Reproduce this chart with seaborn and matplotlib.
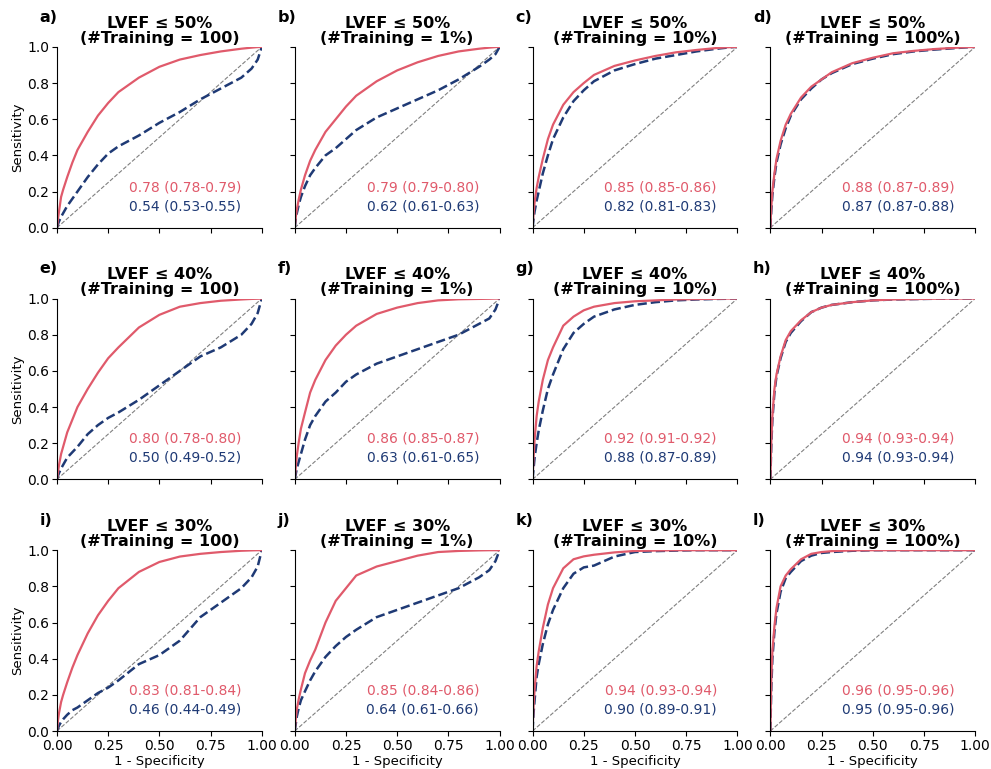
import numpy as np
import pandas as pd
import matplotlib
matplotlib.use("Agg")
import matplotlib.pyplot as plt
import seaborn as sns

# shared false positive rate grid used to read the curves off the figure
fpr = [0, .005, .01, .02, .03, .05, .075, .1, .15, .2, .25, .3, .4, .5, .6, .7, .8, .9, .95, .98, 1]

# sensitivity values per panel (red = first model, blue = second model)
red_a = [0, .05, .09, .17, .21, .28, .36, .43, .53, .62, .69, .75, .83, .89, .93, .955, .975, .99, .996, .999, 1]
blue_a = [0, .02, .035, .06, .08, .12, .16, .2, .28, .35, .41, .45, .51, .58, .64, .71, .77, .83, .88, .93, 1]
red_b = [0, .06, .1, .16, .21, .29, .37, .43, .53, .6, .67, .73, .81, .87, .915, .95, .975, .99, .996, .999, 1]
blue_b = [0, .05, .08, .13, .17, .23, .29, .33, .4, .44, .49, .54, .61, .66, .71, .76, .82, .89, .93, .96, 1]
red_c = [0, .08, .14, .22, .28, .38, .49, .57, .68, .75, .8, .845, .895, .925, .95, .97, .983, .994, .998, .999, 1]
blue_c = [0, .05, .09, .15, .2, .3, .4, .49, .61, .7, .76, .81, .87, .905, .935, .955, .975, .99, .996, .999, 1]
red_d = [0, .12, .2, .3, .38, .48, .57, .63, .72, .78, .82, .86, .91, .94, .965, .978, .988, .995, .998, .999, 1]
blue_d = [0, .1, .18, .28, .36, .46, .55, .62, .71, .77, .82, .855, .905, .935, .96, .975, .985, .993, .997, .999, 1]

red_e = [0, .04, .08, .14, .18, .26, .33, .4, .5, .59, .67, .73, .84, .91, .955, .975, .988, .995, .998, .999, 1]
blue_e = [0, .02, .035, .06, .08, .12, .15, .18, .25, .3, .34, .37, .44, .52, .6, .68, .73, .8, .86, .92, 1]
red_f = [0, .07, .13, .21, .28, .37, .48, .55, .66, .74, .8, .85, .915, .95, .975, .99, .996, .998, .999, 1, 1]
blue_f = [0, .03, .06, .1, .14, .22, .3, .35, .43, .48, .54, .58, .64, .68, .72, .76, .8, .86, .89, .94, 1]
red_g = [0, .12, .22, .35, .43, .55, .66, .73, .85, .9, .935, .955, .975, .985, .99, .995, .997, .999, 1, 1, 1]
blue_g = [0, .06, .12, .2, .27, .38, .5, .58, .72, .81, .86, .9, .94, .965, .98, .99, .995, .998, .999, 1, 1]
red_h = [0, .22, .35, .5, .58, .68, .77, .82, .88, .925, .95, .965, .98, .99, .995, .997, .999, 1, 1, 1, 1]
blue_h = [0, .2, .33, .48, .57, .67, .76, .81, .875, .925, .95, .965, .98, .99, .995, .997, .999, 1, 1, 1, 1]

red_i = [0, .06, .1, .16, .2, .27, .35, .42, .54, .64, .72, .79, .88, .935, .965, .98, .99, .997, .999, 1, 1]
blue_i = [0, .015, .03, .05, .065, .09, .115, .13, .17, .21, .24, .28, .37, .42, .5, .63, .71, .79, .85, .91, 1]
red_j = [0, .07, .12, .18, .23, .32, .39, .45, .6, .72, .79, .86, .91, .94, .97, .99, .996, .999, 1, 1, 1]
blue_j = [0, .04, .08, .13, .17, .22, .28, .33, .41, .47, .52, .56, .63, .67, .71, .75, .79, .85, .89, .94, 1]
red_k = [0, .14, .23, .36, .44, .57, .7, .79, .9, .95, .966, .975, .988, .996, .998, 1, 1, 1, 1, 1, 1]
blue_k = [0, .1, .17, .3, .37, .48, .59, .67, .79, .87, .905, .915, .965, .99, .995, .998, 1, 1, 1, 1, 1]
red_l = [0, .3, .44, .58, .68, .8, .86, .895, .95, .98, .99, .995, .999, 1, 1, 1, 1, 1, 1, 1, 1]
blue_l = [0, .25, .4, .55, .65, .77, .845, .88, .94, .97, .985, .99, .997, 1, 1, 1, 1, 1, 1, 1, 1]

thresholds = ["50%", "40%", "30%"]
training = ["100", "1%", "10%", "100%"]
letters = list("abcdefghijkl")

red_auc = ["0.78 (0.78-0.79)", "0.79 (0.79-0.80)", "0.85 (0.85-0.86)", "0.88 (0.87-0.89)",
           "0.80 (0.78-0.80)", "0.86 (0.85-0.87)", "0.92 (0.91-0.92)", "0.94 (0.93-0.94)",
           "0.83 (0.81-0.84)", "0.85 (0.84-0.86)", "0.94 (0.93-0.94)", "0.96 (0.95-0.96)"]
blue_auc = ["0.54 (0.53-0.55)", "0.62 (0.61-0.63)", "0.82 (0.81-0.83)", "0.87 (0.87-0.88)",
            "0.50 (0.49-0.52)", "0.63 (0.61-0.65)", "0.88 (0.87-0.89)", "0.94 (0.93-0.94)",
            "0.46 (0.44-0.49)", "0.64 (0.61-0.66)", "0.90 (0.89-0.91)", "0.95 (0.95-0.96)"]

red_curves = [red_a, red_b, red_c, red_d, red_e, red_f, red_g, red_h, red_i, red_j, red_k, red_l]
blue_curves = [blue_a, blue_b, blue_c, blue_d, blue_e, blue_f, blue_g, blue_h, blue_i, blue_j, blue_k, blue_l]

RED = "#E05A6B"
BLUE = "#1F3A75"

sns.set_style("ticks", {"axes.edgecolor": "black", "text.color": "black",
                        "axes.labelcolor": "black", "xtick.color": "black",
                        "ytick.color": "black"})
plt.rcParams['font.family'] = ['DejaVu Sans']
plt.rcParams['xtick.major.size'] = 3.5
plt.rcParams['ytick.major.size'] = 3.5

fig, axes = plt.subplots(3, 4, figsize=(9.91, 7.69), dpi=100, sharex=True, sharey=True)
fig.subplots_adjust(left=0.0575, right=0.984, top=0.939, bottom=0.0494, wspace=0.161, hspace=0.392)

for k, ax in enumerate(axes.flat):
    row, col = divmod(k, 4)
    df = pd.DataFrame({"fpr": fpr, "red": red_curves[k], "blue": blue_curves[k]})
    # chance line
    ax.plot([0, 1], [0, 1], ls="--", color="gray", lw=0.8)
    sns.lineplot(data=df, x="fpr", y="blue", ax=ax, color=BLUE, lw=1.8,
                 linestyle="--", sort=False, estimator=None)
    sns.lineplot(data=df, x="fpr", y="red", ax=ax, color=RED, lw=1.6,
                 sort=False, estimator=None)
    ax.set_xlim(0, 1)
    ax.set_ylim(0, 1)
    ax.set_xticks([0, 0.25, 0.5, 0.75, 1.0])
    ax.set_yticks([0, 0.2, 0.4, 0.6, 0.8, 1.0])
    ax.tick_params(labelsize=10, pad=2)
    ax.set_title(f"LVEF \u2264 {thresholds[row]}\n(#Training = {training[col]})",
                 fontsize=11.5, fontweight="bold", pad=3, linespacing=1.0)
    ax.text(-0.085, 1.165, f"{letters[k]})", transform=ax.transAxes,
            fontsize=11.5, fontweight="bold", ha="left", va="center")
    ax.text(0.9, 0.225, red_auc[k], color=RED, transform=ax.transAxes,
            ha="right", va="center", fontsize=10)
    ax.text(0.9, 0.12, blue_auc[k], color=BLUE, transform=ax.transAxes,
            ha="right", va="center", fontsize=10)
    ax.set_xlabel("1 - Specificity" if row == 2 else "", fontsize=9.5, labelpad=2)
    ax.set_ylabel("Sensitivity" if col == 0 else "", fontsize=9.5, labelpad=2)
    sns.despine(ax=ax)

plt.savefig("out.png", dpi=100)
